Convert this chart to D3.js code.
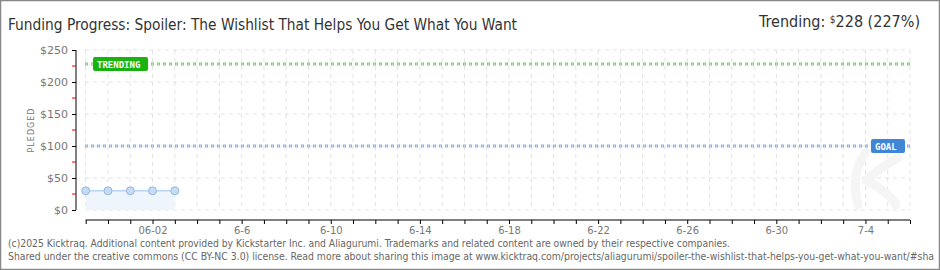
<!DOCTYPE html>
<html><head><meta charset="utf-8">
<script src="https://cdn.jsdelivr.net/npm/d3@7"></script>
<style>
body{margin:0;padding:0;background:#fff;}
svg{display:block;}
</style></head>
<body>
<svg id="chart" width="940" height="270"></svg>
<script>
const titleText = "Funding Progress: Spoiler: The Wishlist That Helps You Get What You Want";
const trendingValue = 228;
const trendingPct = 227;
const goalValue = 100;
const dates = ["2025-05-30","2025-05-31","2025-06-01","2025-06-02","2025-06-03"];
const pledged = [30, 30, 30, 30, 30];
const domainStart = "2025-05-30";
const domainEnd = "2025-07-06";
const yTicks = [0, 50, 100, 150, 200, 250];
const yMinorTicks = [25, 75, 125, 175, 225];
const xLabelDates = ["2025-06-02","2025-06-06","2025-06-10","2025-06-14","2025-06-18","2025-06-22","2025-06-26","2025-06-30","2025-07-04"];
const xLabels = ["06-02","6-6","6-10","6-14","6-18","6-22","6-26","6-30","7-4"];
const footer1 = "(c)2025 Kicktraq. Additional content provided by Kickstarter Inc. and Aliagurumi. Trademarks and related content are owned by their respective companies.";
const footer2 = "Shared under the creative commons (CC BY-NC 3.0) license. Read more about sharing this image at www.kicktraq.com/projects/aliagurumi/spoiler-the-wishlist-that-helps-you-get-what-you-want/#sha";

const parse = d3.utcParse("%Y-%m-%d");
const svg = d3.select("#chart");
const W = 940, H = 270;
const narrow = "'DejaVu Sans Condensed','Liberation Sans Narrow',sans-serif";

svg.append("rect").attr("x",0.5).attr("y",0.5).attr("width",W-1).attr("height",H-1)
  .attr("fill","#fff").attr("stroke","#888").attr("stroke-width",1.5);

const x = d3.scaleUtc().domain([parse(domainStart), parse(domainEnd)]).range([85.7, 910]);
const y = d3.scaleLinear().domain([0, 250]).range([210, 50]);

// title
svg.append("text").attr("x",8).attr("y",30).attr("font-family",narrow).attr("font-size",16)
  .attr("fill","#333").attr("textLength",509).attr("lengthAdjust","spacingAndGlyphs").text(titleText);
const tr = svg.append("text").attr("x",920).attr("y",27).attr("text-anchor","end")
  .attr("font-family",narrow).attr("font-size",16).attr("fill","#333");
tr.append("tspan").text("Trending:  ");
tr.append("tspan").attr("font-size",10).attr("dy",-4).text("$");
tr.append("tspan").attr("dy",4).text(trendingValue + " (" + trendingPct + "%)");

// gridlines
const days = d3.utcDay.range(parse(domainStart), d3.utcDay.offset(parse(domainEnd),1));
const grid = svg.append("g");
grid.selectAll("line.v").data(days).join("line")
  .attr("x1",d=>x(d)).attr("x2",d=>x(d)).attr("y1",50).attr("y2",210)
  .attr("stroke","#e2e2e2").attr("stroke-dasharray","4,4");
grid.selectAll("line.h").data(yTicks).join("line")
  .attr("x1",85).attr("x2",910).attr("y1",d=>y(d)).attr("y2",d=>y(d))
  .attr("stroke","#e2e2e2").attr("stroke-dasharray","4,4");

// watermark (faint K shape)
svg.append("path").attr("d","M858,205 C852,185 856,165 866,152 M866,180 C878,170 890,162 898,158 M866,180 C880,188 892,196 896,205")
  .attr("fill","none").attr("stroke","#f5f5f5").attr("stroke-width",9).attr("stroke-linecap","round");

// area + line
const pts = dates.map((d,i)=>({d:parse(d), v:pledged[i]}));
svg.append("path").datum(pts)
  .attr("d", d3.area().x(p=>x(p.d)).y0(y(0)).y1(p=>y(p.v)))
  .attr("fill","#eef5fd");
svg.append("path").datum(pts)
  .attr("d", d3.line().x(p=>x(p.d)).y(p=>y(p.v)))
  .attr("fill","none").attr("stroke","#b7d5f5").attr("stroke-width",1.5);

// goal and trending lines
function refLine(v, color){
  svg.append("line").attr("x1",85).attr("x2",910).attr("y1",y(v)).attr("y2",y(v))
    .attr("stroke",color).attr("stroke-width",3).attr("stroke-dasharray","3,3");
  svg.append("line").attr("x1",85).attr("x2",910).attr("y1",y(v)).attr("y2",y(v))
    .attr("stroke","#fff").attr("stroke-width",1).attr("stroke-dasharray","1,5").attr("stroke-dashoffset",-1);
}
refLine(trendingValue, "#7cd16b");
refLine(goalValue, "#8fb2de");

// points
svg.selectAll("circle.pt").data(pts).join("circle")
  .attr("cx",p=>x(p.d)).attr("cy",p=>y(p.v)).attr("r",4)
  .attr("fill","#c4ddf7").attr("stroke","#97b8db").attr("stroke-width",1);

// labels
function badge(xc, v, w, color, txt){
  svg.append("rect").attr("x",xc).attr("y",y(v)-7).attr("width",w).attr("height",14)
    .attr("rx",2).attr("fill",color);
  svg.append("text").attr("x",xc+4).attr("y",y(v)+4).attr("font-family","'DejaVu Sans Mono',monospace")
    .attr("font-size",9).attr("font-weight","bold").attr("fill","#fff").text(txt);
}
badge(93, trendingValue, 55, "#19b20e", "TRENDING");
badge(871, goalValue, 34, "#3f87d6", "GOAL");

// y axis
const yAxis = d3.axisLeft(y).tickValues(yTicks).tickSize(4).tickFormat(d=>"$"+d);
const ya = svg.append("g").attr("transform","translate(76,0)").call(yAxis);
ya.select(".domain").attr("stroke","#000").attr("d","M0,50V210");
ya.selectAll(".tick line").attr("stroke","#000");
ya.selectAll(".tick text").attr("font-family","'DejaVu Sans',sans-serif").attr("font-size",11)
  .attr("fill","#777").attr("x",-8);
svg.append("g").selectAll("line").data(yMinorTicks).join("line")
  .attr("x1",72).attr("x2",76).attr("y1",d=>y(d)).attr("y2",d=>y(d)).attr("stroke","#e00");
svg.append("text").attr("transform","translate(34,130) rotate(-90)").attr("text-anchor","middle")
  .attr("font-family","'DejaVu Sans',sans-serif").attr("font-size",8).attr("letter-spacing",1)
  .attr("fill","#777").text("PLEDGED");

// x axis
const xAxis = d3.axisBottom(x).tickValues(days).tickSize(4).tickFormat(d=>{
  const k = d3.utcFormat("%Y-%m-%d")(d); const i = xLabelDates.indexOf(k); return i>=0?xLabels[i]:"";});
const xa = svg.append("g").attr("transform","translate(0,220)").call(xAxis);
xa.select(".domain").attr("stroke","#000").attr("d","M85.7,0H910");
xa.selectAll(".tick line").attr("stroke","#000");
xa.selectAll(".tick text").attr("font-family","'DejaVu Sans',sans-serif").attr("font-size",10)
  .attr("fill","#777").attr("y",7);

// footer
svg.append("text").attr("x",8).attr("y",247).attr("font-family",narrow).attr("font-size",10)
  .attr("fill","#666").attr("textLength",722).attr("lengthAdjust","spacingAndGlyphs").text(footer1);
svg.append("text").attr("x",8).attr("y",260).attr("font-family",narrow).attr("font-size",10)
  .attr("fill","#666").attr("textLength",926).attr("lengthAdjust","spacingAndGlyphs").text(footer2);
</script>
</body></html>
